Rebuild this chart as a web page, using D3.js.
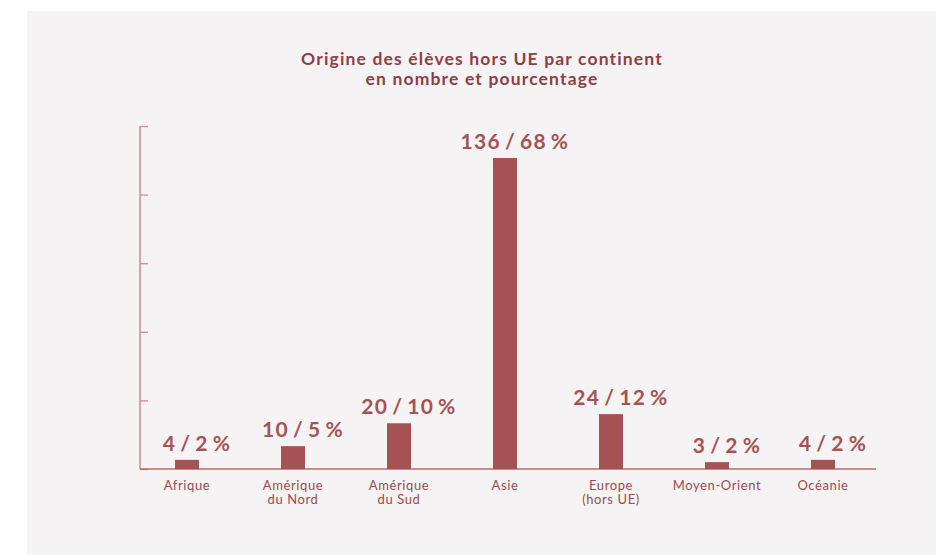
<!DOCTYPE html>
<html><head><meta charset="utf-8">
<script src="https://cdn.jsdelivr.net/npm/d3@7"></script>
<style>
html,body{margin:0;padding:0;background:#ffffff;}
svg{display:block;}
</style></head>
<body>
<svg id="chart" width="945" height="555"></svg>
<script>
const categories = [["Afrique"], ["Amérique","du Nord"], ["Amérique","du Sud"], ["Asie"], ["Europe","(hors UE)"], ["Moyen-Orient"], ["Océanie"]];
const counts = [4, 10, 20, 136, 24, 3, 4];
const percents = [2, 5, 10, 68, 12, 2, 2];
const yTicks = [0, 30, 60, 90, 120, 150];
const titleLines = ["Origine des élèves hors UE par continent", "en nombre et pourcentage"];

const svg = d3.select("#chart");
const barColor = "#a65254";
const axisColor = "#c98c8e";
const textColor = "#9a4a4f";

svg.append("rect").attr("x", 27).attr("y", 11).attr("width", 909).attr("height", 544).attr("fill", "#f6f3f4");

const keys = categories.map(c => c.join(" "));
const x = d3.scaleBand().domain(keys).range([134, 876]);
const y = d3.scaleLinear().domain([0, 150]).range([469, 126]);
const barW = 24;

// title
svg.append("text").attr("x", 482).attr("y", 65).attr("text-anchor", "middle")
  .attr("font-family", "Lato, sans-serif").attr("font-weight", "bold").attr("font-size", 17.5)
  .attr("letter-spacing", 1.15).attr("fill", "#8e3f45")
  .selectAll("tspan").data(titleLines).join("tspan")
  .attr("x", 482).attr("dy", (d, i) => i === 0 ? 0 : 20).text(d => d);

// y axis
const yAxis = svg.append("g").attr("transform", "translate(140,0)")
  .call(d3.axisRight(y).tickValues(yTicks).tickSize(8).tickFormat(""));
yAxis.select(".domain").attr("stroke", axisColor).attr("stroke-width", 1.5).attr("d", "M0,126V469");
yAxis.selectAll(".tick line").attr("stroke", axisColor).attr("stroke-width", 1.3);

// baseline
svg.append("line").attr("x1", 140).attr("x2", 876).attr("y1", y(0)).attr("y2", y(0))
  .attr("stroke", "#b86a6d").attr("stroke-width", 1.3);

// bars
svg.append("g").selectAll("rect").data(counts).join("rect")
  .attr("x", (d, i) => x(keys[i]) + x.bandwidth() / 2 - barW / 2)
  .attr("y", d => y(d))
  .attr("width", barW)
  .attr("height", d => y(0) - y(d))
  .attr("fill", barColor);

// value labels
svg.append("g").selectAll("text").data(counts).join("text")
  .attr("x", (d, i) => x(keys[i]) + x.bandwidth() / 2 + 10)
  .attr("y", d => y(d) - 9)
  .attr("text-anchor", "middle")
  .attr("font-family", "Lato, sans-serif").attr("font-weight", "bold").attr("font-size", 21)
  .attr("letter-spacing", 1.3).attr("fill", barColor)
  .text((d, i) => `${d}\u2009/\u2009${percents[i]}\u2009%`);

// category labels
const xAxis = svg.append("g").attr("transform", `translate(0,${y(0)})`)
  .call(d3.axisBottom(x).tickSize(0).tickFormat(""));
xAxis.select(".domain").remove();
xAxis.selectAll(".tick").each(function(d, i) {
  const t = d3.select(this).append("text")
    .attr("y", 20.5).attr("text-anchor", "middle")
    .attr("font-family", "Lato, sans-serif").attr("font-size", 13)
    .attr("letter-spacing", 0.6).attr("fill", textColor);
  categories[i].forEach((line, j) => {
    t.append("tspan").attr("x", 0).attr("dy", j === 0 ? 0 : 14.5).text(line);
  });
});
</script>
</body></html>
